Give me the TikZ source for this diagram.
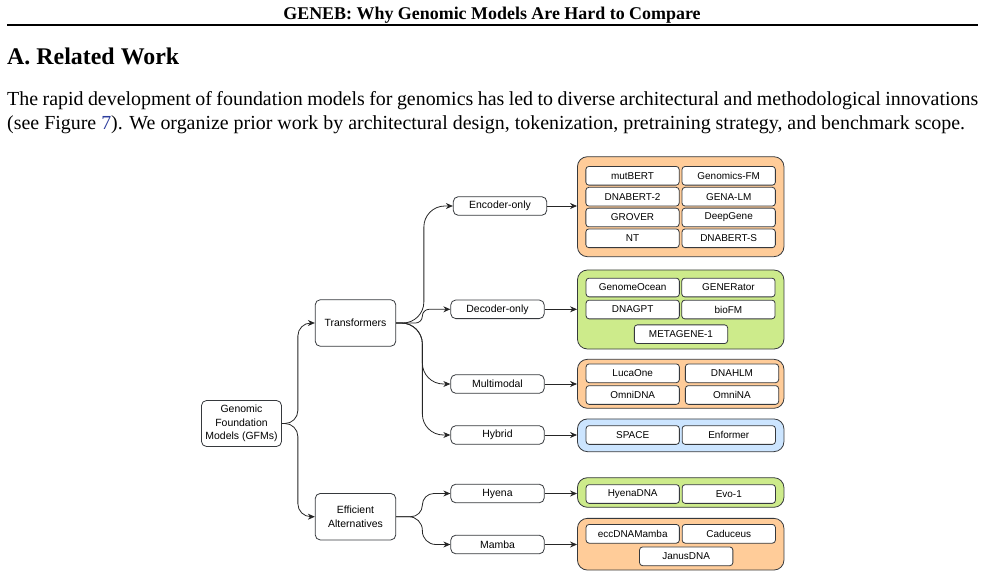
\documentclass[tikz,border=0pt]{standalone}
\usepackage{fontspec}
\setmainfont{Liberation Serif}
\newfontfamily\diag{Liberation Sans}
\usetikzlibrary{arrows.meta,calc}
\definecolor{orfill}{HTML}{FFCC99}
\definecolor{grfill}{HTML}{CDEB8B}
\definecolor{blfill}{HTML}{CCE5FF}
\definecolor{strk}{HTML}{36393D}
\definecolor{linkblue}{HTML}{2B3C9C}
\begin{document}
\begin{tikzpicture}[x=1bp,y=-1bp,
  catbox/.style={draw=strk, fill=white, rounded corners=5bp, line width=0.8bp,
    font=\diag\fontsize{10.5}{13.5}\selectfont, align=center, inner sep=0pt},
  bigbox/.style={catbox, minimum width=80.5bp, minimum height=46.5bp},
  subbox/.style={catbox, minimum width=93.5bp, minimum height=18.6bp},
  item/.style={draw=strk, fill=white, rounded corners=3bp, line width=0.8bp,
    font=\diag\fontsize{10}{12}\selectfont, inner sep=0pt,
    minimum width=93.3bp, minimum height=18.7bp},
  group/.style={draw=strk, rounded corners=10bp, line width=0.8bp,
    minimum width=206.5bp, inner sep=0pt},
  conn/.style={draw=black!85, line width=0.8bp, -{Stealth[length=7bp,width=6bp]}},
]
\useasboundingbox (0,0) rectangle (985,577);

% header text
\node[anchor=base, inner sep=0pt] (hdr) at (492,19.5)
  {\fontsize{18}{22}\selectfont\bfseries GENEB: Why Genomic Models Are Hard to Compare};
\coordinate (rl) at (7,25);
\coordinate (rr) at (978,25);
\draw[line width=2bp] (rl) -- (rr);
\node[anchor=base west, inner sep=0pt] (sec) at (7,65)
  {\fontsize{24}{28}\selectfont\bfseries A. Related Work};
\node[anchor=base west, inner sep=0pt] (p1) at (7,106)
  {\fontsize{20}{24}\selectfont\makebox[971bp][s]{The rapid development of foundation models for genomics has led to diverse architectural and methodological innovations}};
\node[anchor=base west, inner sep=0pt] (p2) at (7,130)
  {\fontsize{20}{24}\selectfont (see Figure \textcolor{linkblue}{7}). We organize prior work by architectural design, tokenization, pretraining strategy, and benchmark scope.};

% main nodes
\node[catbox, minimum width=80bp, minimum height=46bp] (gfm) at (241.5,423.5)
  {Genomic\\Foundation\\Models (GFMs)};
\node[bigbox] (tr) at (355.5,323) {Transformers};
\node[bigbox] (eff) at (355.5,516.7) {Efficient\\Alternatives};

\node[subbox] (enc) at (500,206) {Encoder-only};
\node[subbox] (dec) at (497.5,309.3) {Decoder-only};
\node[subbox] (mm) at (497.5,384) {Multimodal};
\node[subbox] (hyb) at (497.5,435) {Hybrid};
\node[subbox] (hy) at (497.5,493.5) {Hyena};
\node[subbox] (mb) at (497.5,544.5) {Mamba};

% groups
\node[group, fill=orfill, minimum height=100bp] (genc) at (680.7,206.7) {};
\node[group, fill=grfill, minimum height=79bp] (gdec) at (680.7,309.5) {};
\node[group, fill=orfill, minimum height=49bp] (gmm) at (680.7,383.8) {};
\node[group, fill=blfill, minimum height=32.7bp] (ghyb) at (680.7,435.3) {};
\node[group, fill=grfill, minimum height=29.6bp] (ghy) at (680.7,492.5) {};
\node[group, fill=orfill, minimum height=51.7bp] (gmb) at (680.7,544.2) {};

% items: encoder
\node[item] (e1) at (632.5,175.8) {mutBERT};
\node[item] (e2) at (728.7,175.8) {Genomics-FM};
\node[item] (e3) at (632.5,196.7) {DNABERT-2};
\node[item] (e4) at (728.7,196.7) {GENA-LM};
\node[item] (e5) at (632.5,217.5) {GROVER};
\node[item] (e6) at (728.7,217.5) {DeepGene};
\node[item] (e7) at (632.5,238.3) {NT};
\node[item] (e8) at (728.7,238.3) {DNABERT-S};
% decoder
\node[item] (d1) at (632.7,287.5) {GenomeOcean};
\node[item] (d2) at (728.4,287.5) {GENERator};
\node[item] (d3) at (632.7,309.5) {DNAGPT};
\node[item] (d4) at (728.4,309.5) {bioFM};
\node[item] (d5) at (681,334.2) {METAGENE-1};
% multimodal
\node[item] (m1) at (632.7,373.3) {LucaOne};
\node[item] (m2) at (732,373.3) {DNAHLM};
\node[item] (m3) at (632.7,395) {OmniDNA};
\node[item] (m4) at (732,395) {OmniNA};
% hybrid
\node[item] (h1) at (632.7,435) {SPACE};
\node[item] (h2) at (728.8,435) {Enformer};
% hyena
\node[item] (y1) at (632.7,494) {HyenaDNA};
\node[item] (y2) at (728.8,494) {Evo-1};
% mamba
\node[item] (b1) at (632.7,533.8) {eccDNAMamba};
\node[item] (b2) at (728.8,533.8) {Caduceus};
\node[item] (b3) at (686.2,556.3) {JanusDNA};

% connectors
\draw[conn, rounded corners=13bp] (gfm.east) -| ([xshift=-17bp]tr.west) -- (tr.west);
\draw[conn, rounded corners=13bp] (gfm.east) -| ([xshift=-17bp]eff.west) -- (eff.west);
\draw[conn, rounded corners=21bp] (tr.east) -| ([xshift=-29bp]enc.west) -- (enc.west);
\draw[conn, rounded corners=6.8bp] (tr.east) -| ([xshift=-28bp]dec.west) -- (dec.west);
\draw[conn, rounded corners=21bp] (tr.east) -| ([xshift=-28bp]mm.west) -- (mm.west);
\draw[conn, rounded corners=21bp] (tr.east) -| ([xshift=-28bp]hyb.west) -- (hyb.west);
\draw[conn, rounded corners=11.5bp] (eff.east) -| ([xshift=-28bp]hy.west) -- (hy.west);
\draw[conn, rounded corners=13.5bp] (eff.east) -| ([xshift=-28bp]mb.west) -- (mb.west);

\draw[conn] (enc.east) -- (enc.east -| genc.west);
\draw[conn] (dec.east) -- (dec.east -| gdec.west);
\draw[conn] (mm.east) -- (mm.east -| gmm.west);
\draw[conn] (hyb.east) -- (hyb.east -| ghyb.west);
\draw[conn] (hy.east) -- (hy.east -| ghy.west);
\draw[conn] (mb.east) -- (mb.east -| gmb.west);
\end{tikzpicture}
\end{document}
